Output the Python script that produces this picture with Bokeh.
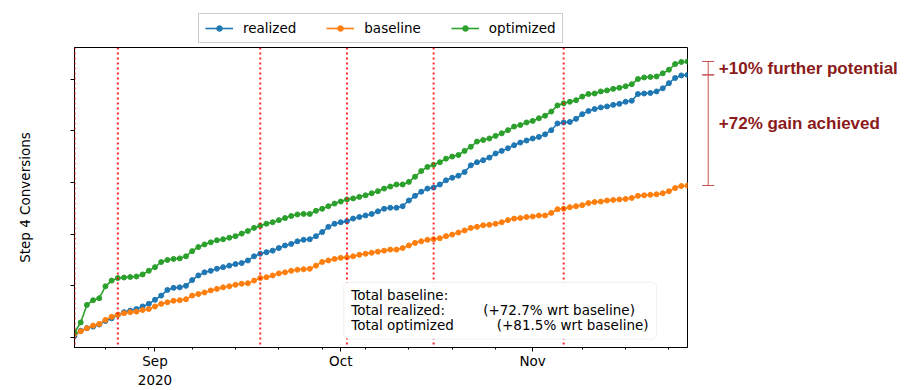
import pandas as pd
from bokeh.plotting import figure
from bokeh.layouts import column, row
from bokeh.models import (Range1d, FixedTicker, CustomJSTickFormatter, Span, Legend, LegendItem,
                          Label, BoxAnnotation, Arrow, TeeHead, ColumnDataSource)
from bokeh.embed import file_html
from bokeh.resources import INLINE

# ---------------- data ----------------
start_date = "2020-08-19"
n_days = 100

realized = [3, 13, 18, 21, 25, 32, 37, 44, 49, 52,
            55, 60, 65, 73, 81, 92, 96, 97, 100, 111,
            120, 126, 129, 133, 136, 139, 142, 144, 149, 157,
            162, 165, 168, 173, 178, 181, 186, 189, 190, 196,
            204, 214, 220, 223, 225, 230, 233, 236, 239, 244,
            249, 251, 251, 254, 265, 274, 282, 288, 290, 296,
            304, 309, 313, 320, 333, 339, 343, 348, 356, 361,
            366, 372, 377, 381, 385, 388, 393, 401, 414, 416,
            417, 423, 432, 438, 442, 445, 447, 450, 452, 456,
            458, 471, 472, 473, 476, 482, 492, 502, 507, 508]

baseline = [6.5, 12, 18, 23, 26, 34, 40, 44, 47, 49,
            50, 53, 55, 60, 65, 68, 71, 72, 74, 81,
            84, 87, 91, 94, 97, 99, 102, 104, 105, 110,
            115, 116.5, 120, 124, 126, 129, 131, 132, 133, 139,
            146, 149, 152, 154, 155, 157, 160, 162, 164, 166,
            168, 170, 170, 173, 178, 183, 186, 189, 190, 192,
            196, 199, 203, 207, 212, 214, 217, 218, 220, 223,
            227, 230, 231, 233, 234, 236, 236, 241, 248, 249,
            252, 254, 256, 260, 262, 263, 265, 266, 267, 268,
            270, 274, 275, 276, 277, 279, 283, 289, 293, 294]

optimized = [9.7, 29, 63, 72, 76, 99, 110, 115, 116, 117,
             118, 122, 129, 136, 146, 150, 152, 153, 157, 167,
             175, 180, 184, 188, 190, 193, 196, 201, 206, 212,
             216, 220, 223, 227, 231, 235, 238, 239, 239, 245,
             249, 254, 259, 263, 267, 269, 272, 275, 279, 283,
             288, 292, 296, 296, 301, 311, 322, 330, 334, 339,
             346, 350, 353, 361, 369, 379, 382, 385, 390, 395,
             401, 408, 411, 416, 419, 424, 429, 437, 449, 453,
             456, 459, 466, 471, 472, 476, 478, 481, 483, 486,
             490, 500, 503, 504, 505, 511, 518, 529, 533, 534]

event_dates = ["2020-08-19", "2020-08-26", "2020-09-18", "2020-10-02", "2020-10-16", "2020-11-06"]
month_ticks = ["2020-09-01", "2020-10-01", "2020-11-01"]
month_labels = ["Sep\n2020", "Oct", "Nov"]
week_ticks = ["2020-08-24", "2020-08-31", "2020-09-07", "2020-09-14", "2020-09-21", "2020-09-28",
              "2020-10-05", "2020-10-12", "2020-10-19", "2020-10-26", "2020-11-09", "2020-11-16",
              "2020-11-23"]
y_ticks = [0, 100, 200, 300, 400, 500]

series_names = ["realized", "baseline", "optimized"]
series_colors = ["#1f77b4", "#ff7f0e", "#2ca02c"]

stats_lines = ["Total baseline:", "Total realized:", "Total optimized"]
stats_pcts = ["(+72.7% wrt baseline)", "(+81.5% wrt baseline)"]
gain_texts = ["+10% further potential", "+72% gain achieved"]


def ms(d):
    return pd.Timestamp(d).value / 1e6


DAY = 86400000.0
dates = pd.date_range(start_date, periods=n_days, freq="D")
src = ColumnDataSource(dict(date=dates, realized=realized, baseline=baseline, optimized=optimized))

x0 = ms(start_date)
x1 = ms(dates[-1])

FONT = "DejaVu Sans"
FS = "13.5px"
yr = Range1d(-19.4, 561)

# ---------------- main chart ----------------
p = figure(frame_width=613, frame_height=300, x_axis_type="datetime",
           x_range=Range1d(x0, x1), y_range=yr,
           output_backend="svg", toolbar_location=None,
           min_border_left=74, min_border_right=3, min_border_top=0, min_border_bottom=38)
p.xgrid.visible = False
p.ygrid.visible = False
p.outline_line_color = "black"
p.outline_line_width = 1
p.outline_line_alpha = 1

p.xaxis.ticker = FixedTicker(ticks=[ms(t) for t in month_ticks], minor_ticks=[ms(t) for t in week_ticks])
p.xaxis.formatter = CustomJSTickFormatter(args=dict(labels=month_labels), code="return labels[index]")
p.yaxis.ticker = FixedTicker(ticks=y_ticks, minor_ticks=[])
p.yaxis.formatter = CustomJSTickFormatter(code="return ''")
for ax in (p.xaxis[0], p.yaxis[0]):
    ax.axis_line_color = "black"
    ax.major_tick_line_color = "black"
    ax.minor_tick_line_color = "black"
    ax.major_tick_in = 0
    ax.major_tick_out = 4
    ax.minor_tick_in = 0
    ax.minor_tick_out = 2
    ax.major_label_text_font = FONT
    ax.major_label_text_font_size = FS
    ax.major_label_text_color = "black"
    ax.axis_label_text_font = FONT
    ax.axis_label_text_font_size = FS
    ax.axis_label_text_font_style = "normal"
    ax.axis_label_text_color = "black"
p.xaxis.major_label_standoff = 1
p.yaxis.axis_label = "Step 4 Conversions"
p.yaxis.axis_label_standoff = 38

for d in event_dates:
    p.add_layout(Span(location=ms(d), dimension="height", line_color="red",
                      line_dash="2 3", line_width=2, line_alpha=0.85))

for name, col in zip(series_names, series_colors):
    p.line("date", name, source=src, line_color=col, line_width=1.6)
    p.scatter("date", name, source=src, size=5, fill_color=col, line_color=col)

# stats box
p.add_layout(BoxAnnotation(left=x0 + 43.5 * DAY, right=x0 + 94.0 * DAY, bottom=-3.1, top=106.8,
                           fill_color="white", fill_alpha=1, line_color="#cccccc", line_width=1,
                           border_radius=5))
for txt, yv in zip(stats_lines, [82.9, 53.2, 24.7]):
    p.add_layout(Label(x=x0 + 44.7 * DAY, y=yv, text=txt, text_font=FONT, text_font_size=FS,
                       text_color="black", text_baseline="middle"))
for txt, yv, dx in zip(stats_pcts, [53.2, 24.7], [66.0, 68.2]):
    p.add_layout(Label(x=x0 + dx * DAY, y=yv, text=txt, text_font=FONT, text_font_size=FS,
                       text_color="black", text_baseline="middle"))

# ---------------- legend strip (above) ----------------
# the series are drawn here too, but the ranges keep them out of view: only the legend shows
lg = figure(width=690, height=47, x_range=Range1d(0, 1), y_range=Range1d(0, 1),
            output_backend="svg", toolbar_location=None,
            x_axis_location=None, y_axis_location=None, min_border=0)
lg.outline_line_color = None
lg.xgrid.visible = False
lg.ygrid.visible = False
items = []
for name, col in zip(series_names, series_colors):
    lr = lg.line("date", name, source=src, line_color=col, line_width=1.6)
    sr = lg.scatter("date", name, source=src, size=5, fill_color=col, line_color=col)
    items.append(LegendItem(label=name, renderers=[lr, sr]))
legend = Legend(items=items, orientation="horizontal", location=(198, 4),
                border_line_color="#cccccc", border_line_alpha=1, border_line_width=1,
                background_fill_alpha=1, label_text_font=FONT, label_text_font_size=FS,
                label_text_color="black", glyph_width=28, glyph_height=14, spacing=30,
                padding=6, label_standoff=10, margin=0)
lg.add_layout(legend)

# ---------------- gain annotations (right) ----------------
side = figure(frame_width=215, frame_height=300, x_range=Range1d(0, 215), y_range=yr,
              output_backend="svg", toolbar_location=None,
              x_axis_location=None, y_axis_location=None,
              min_border_left=0, min_border_right=0, min_border_top=0, min_border_bottom=38)
side.outline_line_color = None
side.xgrid.visible = False
side.ygrid.visible = False
bcol = "#c85050"
for ys, ye in [(optimized[-1], realized[-1]), (realized[-1], baseline[-1])]:
    side.add_layout(Arrow(x_start=17.7, y_start=ys, x_end=17.7, y_end=ye, line_color=bcol, line_width=1,
                          start=TeeHead(size=12, line_color=bcol, line_width=1),
                          end=TeeHead(size=12, line_color=bcol, line_width=1)))
gain_y = [(optimized[-1] + realized[-1]) / 2, 413]
for txt, yv in zip(gain_texts, gain_y):
    side.add_layout(Label(x=28.3, y=yv, text=txt, text_font="Liberation Sans",
                          text_font_style="bold", text_font_size="17px", text_color="#8b1a1a",
                          text_baseline="middle"))

layout = column(lg, row(p, side))
open("out.html", "w").write(file_html(layout, INLINE))
